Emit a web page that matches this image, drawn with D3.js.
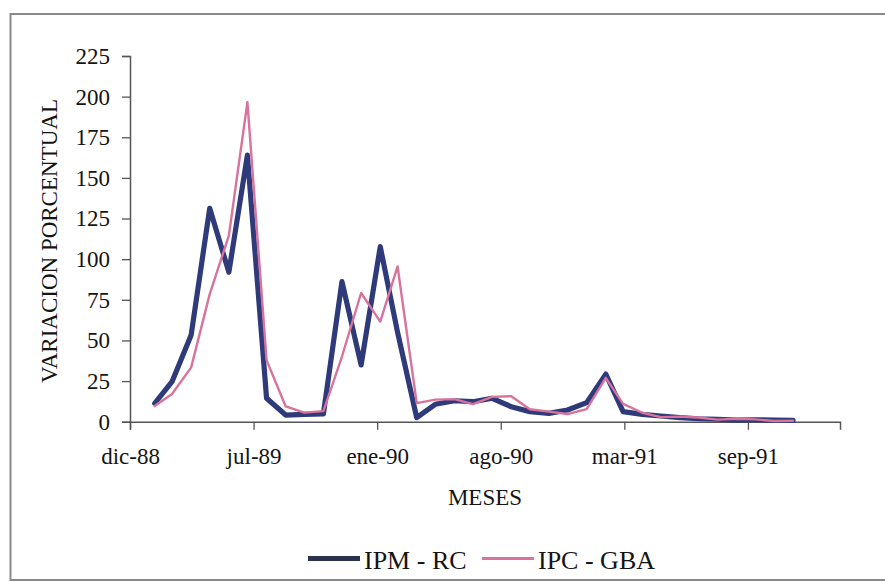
<!DOCTYPE html>
<html>
<head>
<meta charset="utf-8">
<script src="https://cdn.jsdelivr.net/npm/d3@7"></script>
<style>
  html, body { margin: 0; padding: 0; background: #fff; }
  svg { display: block; }
  text { font-family: "Liberation Serif", "Times New Roman", serif; fill: #141414; }
</style>
</head>
<body>
<svg id="chart" width="885" height="582"></svg>
<script>
// Monthly percentage variation, feb-89 .. dic-91
const firstMonth = new Date(1989, 1, 1);
const lastMonth = new Date(1991, 11, 1);

const ipmRC = [11.3, 24.6, 53.4, 131.3, 92.0, 164.0, 14.4, 4.1, 4.5, 4.8, 86.2, 34.9,
               107.7, 55.0, 2.5, 10.7, 12.9, 12.3, 14.4, 9.2, 6.2, 5.1, 7.2, 11.7,
               29.3, 6.2, 4.5, 3.5, 2.5, 1.8, 1.5, 1.0, 1.2, 1.0, 0.8];

const ipcGBA = [9.6, 17.0, 33.4, 78.5, 114.5, 196.6, 37.9, 9.4, 5.6, 6.5, 40.1, 79.2,
                61.6, 95.5, 11.4, 13.6, 13.9, 10.8, 15.3, 15.7, 7.7, 6.2, 4.7, 7.7,
                27.0, 11.0, 5.5, 2.8, 3.1, 2.6, 1.3, 1.8, 1.4, 0.4, 0.6];

const seriesNames = ["IPM - RC", "IPC - GBA"];
const seriesColors = ["#2e3a7a", "#d8739c"];
const seriesWidths = [5.2, 2.4];

// Date axis: starts 23-dic-88, major unit of 200 days
const axisStart = new Date(1988, 11, 23);
const axisEnd = new Date(1992, 1, 15);
const tickStepDays = 200;
const tickLabels = ["dic-88", "jul-89", "ene-90", "ago-90", "mar-91", "sep-91"];
const yTicks = [0, 25, 50, 75, 100, 125, 150, 175, 200, 225];

const months = d3.timeMonth.range(firstMonth, d3.timeMonth.offset(lastMonth, 1));
const tickDates = tickLabels.map((_, i) => d3.timeDay.offset(axisStart, i * tickStepDays));

const svg = d3.select("#chart");

// outer frame
svg.append("path")
  .attr("d", "M 887 14 H 10.5 V 580 H 887")
  .attr("fill", "none")
  .attr("stroke", "#8a8a8a")
  .attr("stroke-width", 2);

const x = d3.scaleTime().domain([axisStart, axisEnd]).range([130, 840]);
const y = d3.scaleLinear().domain([0, 225]).range([421.7, 56]);

// y axis
const yAxis = svg.append("g")
  .attr("transform", "translate(130,0)")
  .call(d3.axisLeft(y).tickValues(yTicks).tickSize(8).tickPadding(12));
yAxis.selectAll("text").style("font-size", "23px").attr("fill", "#141414");

// x axis
const xAxis = svg.append("g")
  .attr("transform", `translate(0,${y(0)})`)
  .call(d3.axisBottom(x).tickValues(tickDates).tickSize(8).tickPadding(18)
        .tickFormat((d, i) => tickLabels[i]));
xAxis.selectAll("text").style("font-size", "23px").attr("fill", "#141414");

[yAxis, xAxis].forEach(g => {
  g.select(".domain").attr("stroke", "#555").attr("stroke-width", 1.5);
  g.selectAll(".tick line").attr("stroke", "#555").attr("stroke-width", 1.3);
});

// axis titles
svg.append("text")
  .attr("transform", "translate(57,241) rotate(-90)")
  .attr("text-anchor", "middle")
  .style("font-size", "23px")
  .text("VARIACION PORCENTUAL");

svg.append("text")
  .attr("x", 485).attr("y", 505)
  .attr("text-anchor", "middle")
  .style("font-size", "23px")
  .text("MESES");

// series lines
const line = d3.line()
  .x((d, i) => x(months[i]))
  .y(d => y(d));

[ipmRC, ipcGBA].forEach((values, k) => {
  svg.append("path")
    .datum(values)
    .attr("fill", "none")
    .attr("stroke", seriesColors[k])
    .attr("stroke-width", seriesWidths[k])
    .attr("stroke-linejoin", "round")
    .attr("stroke-linecap", "round")
    .attr("d", line);
});

// legend
const legendX = [308, 482];
const legend = svg.append("g");
seriesNames.forEach((name, k) => {
  legend.append("line")
    .attr("x1", legendX[k]).attr("x2", legendX[k] + 52)
    .attr("y1", 558.5).attr("y2", 558.5)
    .attr("stroke", k === 0 ? "#2b3150" : seriesColors[k])
    .attr("stroke-width", k === 0 ? 5 : 3.2);
  legend.append("text")
    .attr("x", legendX[k] + 56).attr("y", 569)
    .style("font-size", "26px")
    .text(name);
});
</script>
</body>
</html>
